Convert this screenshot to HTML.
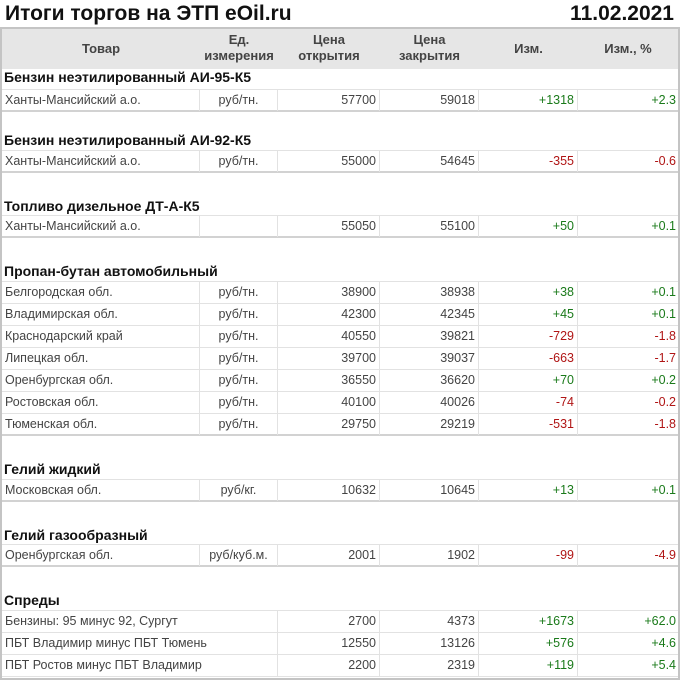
<!DOCTYPE html>
<html><head><meta charset="utf-8"><style>
body{margin:0;width:680px;height:678px;background:#fff;position:relative;overflow:hidden;font-family:"Liberation Sans",Arial,sans-serif;}
.t{position:absolute;font-weight:bold;color:#111;font-size:21px;top:2px;}
.box{position:absolute;left:0;top:27px;width:676px;height:649px;border:2px solid #c4c4c4;border-top-width:2px;}
.hdr{position:absolute;left:2px;top:29px;width:676px;height:40px;background:#e6e6e6;}
.h{position:absolute;font-size:13px;font-weight:bold;color:#444;text-align:center;line-height:16px;}
.sec{position:absolute;left:4px;font-size:14px;font-weight:bold;color:#111;line-height:16px;}
.row{position:absolute;left:2px;width:676px;height:21px;border-top:1px solid #e2e2e2;border-bottom:1px solid #e2e2e2;font-size:12.5px;color:#444;}
.row.last{border-bottom:2px solid #d2d2d2;height:20px;}
.row div{position:absolute;top:0;height:21px;line-height:21px;border-right:1px solid #e2e2e2;box-sizing:border-box;padding:0 3px;white-space:nowrap;}
.c1{left:0;width:198px;}
.c2{left:198px;width:78px;text-align:center;}
.c3{left:276px;width:102px;text-align:right;}
.c4{left:378px;width:99px;text-align:right;}
.c5{left:477px;width:99px;text-align:right;}
.c6{left:576px;width:100px;text-align:right;border-right:none!important;padding-right:2px!important;}
.g{color:#1a7a1a}.r{color:#b01515}
</style></head><body>
<div class="t" style="left:5px">Итоги торгов на ЭТП eOil.ru</div>
<div class="t" style="right:6px">11.02.2021</div>
<div class="box"></div>
<div class="hdr"></div>
<div class="h" style="left:2px;width:198px;top:41px">Товар</div>
<div class="h" style="left:200px;width:78px;top:32px">Ед.<br>измерения</div>
<div class="h" style="left:278px;width:102px;top:32px">Цена<br>открытия</div>
<div class="h" style="left:380px;width:99px;top:32px">Цена<br>закрытия</div>
<div class="h" style="left:479px;width:99px;top:41px">Изм.</div>
<div class="h" style="left:578px;width:100px;top:41px">Изм., %</div>

<div class="sec" style="top:69px">Бензин неэтилированный АИ-95-К5</div>
<div class="row last" style="top:89px"><div class="c1">Ханты-Мансийский а.о.</div><div class="c2">руб/тн.</div><div class="c3">57700</div><div class="c4">59018</div><div class="c5 g">+1318</div><div class="c6 g">+2.3</div></div>

<div class="sec" style="top:132px">Бензин неэтилированный АИ-92-К5</div>
<div class="row last" style="top:150px"><div class="c1">Ханты-Мансийский а.о.</div><div class="c2">руб/тн.</div><div class="c3">55000</div><div class="c4">54645</div><div class="c5 r">-355</div><div class="c6 r">-0.6</div></div>

<div class="sec" style="top:198px">Топливо дизельное ДТ-А-К5</div>
<div class="row last" style="top:215px"><div class="c1">Ханты-Мансийский а.о.</div><div class="c2"></div><div class="c3">55050</div><div class="c4">55100</div><div class="c5 g">+50</div><div class="c6 g">+0.1</div></div>

<div class="sec" style="top:263px">Пропан-бутан автомобильный</div>
<div class="row" style="top:281px"><div class="c1">Белгородская обл.</div><div class="c2">руб/тн.</div><div class="c3">38900</div><div class="c4">38938</div><div class="c5 g">+38</div><div class="c6 g">+0.1</div></div>
<div class="row" style="top:303px"><div class="c1">Владимирская обл.</div><div class="c2">руб/тн.</div><div class="c3">42300</div><div class="c4">42345</div><div class="c5 g">+45</div><div class="c6 g">+0.1</div></div>
<div class="row" style="top:325px"><div class="c1">Краснодарский край</div><div class="c2">руб/тн.</div><div class="c3">40550</div><div class="c4">39821</div><div class="c5 r">-729</div><div class="c6 r">-1.8</div></div>
<div class="row" style="top:347px"><div class="c1">Липецкая обл.</div><div class="c2">руб/тн.</div><div class="c3">39700</div><div class="c4">39037</div><div class="c5 r">-663</div><div class="c6 r">-1.7</div></div>
<div class="row" style="top:369px"><div class="c1">Оренбургская обл.</div><div class="c2">руб/тн.</div><div class="c3">36550</div><div class="c4">36620</div><div class="c5 g">+70</div><div class="c6 g">+0.2</div></div>
<div class="row" style="top:391px"><div class="c1">Ростовская обл.</div><div class="c2">руб/тн.</div><div class="c3">40100</div><div class="c4">40026</div><div class="c5 r">-74</div><div class="c6 r">-0.2</div></div>
<div class="row last" style="top:413px"><div class="c1">Тюменская обл.</div><div class="c2">руб/тн.</div><div class="c3">29750</div><div class="c4">29219</div><div class="c5 r">-531</div><div class="c6 r">-1.8</div></div>

<div class="sec" style="top:461px">Гелий жидкий</div>
<div class="row last" style="top:479px"><div class="c1">Московская обл.</div><div class="c2">руб/кг.</div><div class="c3">10632</div><div class="c4">10645</div><div class="c5 g">+13</div><div class="c6 g">+0.1</div></div>

<div class="sec" style="top:527px">Гелий газообразный</div>
<div class="row last" style="top:544px"><div class="c1">Оренбургская обл.</div><div class="c2">руб/куб.м.</div><div class="c3">2001</div><div class="c4">1902</div><div class="c5 r">-99</div><div class="c6 r">-4.9</div></div>

<div class="sec" style="top:592px">Спреды</div>
<div class="row" style="top:610px"><div class="c1" style="width:276px;border-right:1px solid #e2e2e2">Бензины: 95 минус 92, Сургут</div><div class="c3">2700</div><div class="c4">4373</div><div class="c5 g">+1673</div><div class="c6 g">+62.0</div></div>
<div class="row" style="top:632px"><div class="c1" style="width:276px">ПБТ Владимир минус ПБТ Тюмень</div><div class="c3">12550</div><div class="c4">13126</div><div class="c5 g">+576</div><div class="c6 g">+4.6</div></div>
<div class="row" style="top:654px"><div class="c1" style="width:276px">ПБТ Ростов минус ПБТ Владимир</div><div class="c3">2200</div><div class="c4">2319</div><div class="c5 g">+119</div><div class="c6 g">+5.4</div></div>
</body></html>
